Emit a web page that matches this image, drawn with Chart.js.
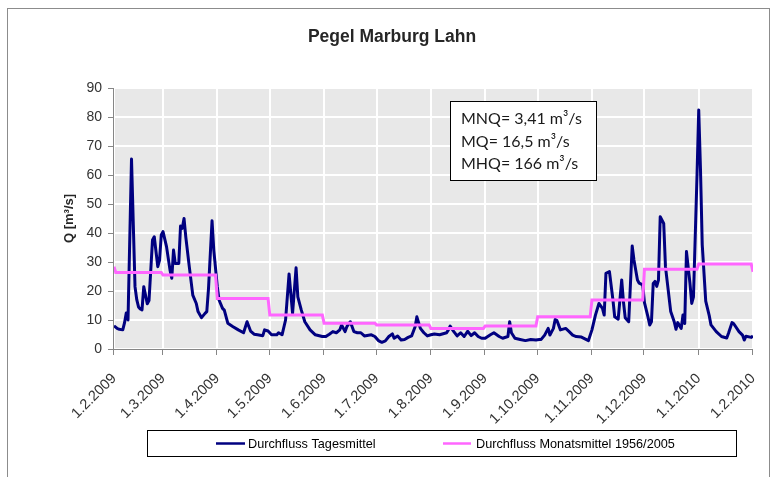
<!DOCTYPE html>
<html>
<head>
<meta charset="utf-8">
<script src="https://cdn.jsdelivr.net/npm/chart.js@4/dist/chart.umd.min.js"></script>
<style>
  html, body { margin: 0; padding: 0; background: #fff; }
  canvas { display: block; }
</style>
</head>
<body>
<canvas id="c" width="777" height="477" style="width:777px;height:477px"></canvas>
<script>
// ---- data ----
const chartTitle = 'Pegel Marburg Lahn';
const yAxisTitle = 'Q [m³/s]';
const seriesNames = ['Durchfluss Tagesmittel', 'Durchfluss Monatsmittel 1956/2005'];
const infoLines = ['MNQ= 3,41 m³/s', 'MQ= 16,5 m³/s', 'MHQ= 166 m³/s'];

// day index since 1.2.2009
const tickDays = [0, 28, 59, 89, 120, 150, 181, 212, 242, 273, 303, 334, 365];
const tickLabels = ['1.2.2009', '1.3.2009', '1.4.2009', '1.5.2009', '1.6.2009', '1.7.2009',
  '1.8.2009', '1.9.2009', '1.10.2009', '1.11.2009', '1.12.2009', '1.1.2010', '1.2.2010'];

// daily discharge (Tagesmittel), sampled at the visible turning points
const flowDays = [0, 2, 3, 5, 6, 7, 8, 10, 12, 13, 14, 15, 16, 17, 19, 20, 22, 23, 25, 26, 27, 28, 30, 32, 33,
  34, 35, 37, 38, 39, 40, 41, 43, 45, 47, 48, 50, 52, 53, 54, 56, 57, 59, 60, 62, 63, 65, 68, 71, 74,
  76, 78, 80, 82, 85, 86, 88, 90, 93, 94, 96, 98, 100, 102, 104, 105, 107, 109, 112, 115, 119, 121,
  123, 125, 127, 129, 130, 132, 133, 135, 137, 139, 141, 143, 147, 149, 151, 153, 155, 157, 159, 160,
  162, 164, 166, 168, 170, 172, 173, 175, 177, 179, 181, 183, 186, 190, 191, 192, 194, 196, 198, 200,
  202, 204, 206, 208, 210, 212, 215, 217, 220, 222, 225, 226, 227, 229, 232, 235, 238, 241, 243, 244,
  246, 248, 249, 251, 252, 253, 255, 258, 260, 262, 264, 267, 269, 271, 273, 275, 277, 279, 280, 281,
  283, 285, 286, 288, 290, 291, 292, 294, 296, 297, 299, 300, 302, 303, 305, 306, 307, 308, 309, 310,
  311, 312, 314, 315, 318, 320, 321, 322, 324, 325, 326, 327, 329, 330, 331, 333, 334, 335, 336, 338,
  340, 341, 344, 347, 350, 351, 353, 354, 357, 359, 360, 361, 364, 365];
const flowValues = [8.0, 7.0, 6.8, 6.6, 9.0, 12.4, 10.0, 65.5, 21.5, 17.0, 14.5, 13.8, 13.5, 21.5, 15.6, 16.7, 37.6, 38.7, 28.4, 30.6, 39.3, 40.5, 35.3, 27.2, 24.4,
  34.1, 29.5, 29.5, 42.4, 41.6, 45.0, 38.7, 28.4, 18.6, 15.7, 12.9, 10.8, 12.3, 12.9, 21.0, 44.2, 34.1, 21.5, 16.9, 14.0, 13.4, 8.9, 7.7, 6.6, 5.6,
  9.4, 6.2, 5.1, 4.9, 4.6, 6.6, 6.2, 4.9, 4.9, 5.6, 4.9, 10.0, 25.9, 12.3, 28.0, 18.0, 13.4, 9.4, 6.6, 4.9, 4.3, 4.3,
  5.1, 6.0, 5.6, 6.6, 8.3, 6.0, 7.7, 9.4, 6.0, 5.6, 5.6, 4.5, 4.9, 4.3, 2.9, 2.3, 2.8, 4.3, 5.2, 3.7,
  4.5, 3.1, 3.3, 4.0, 4.5, 7.7, 11.1, 7.1, 5.6, 4.5, 4.9, 5.2, 4.9, 5.6, 6.6, 7.9, 6.1, 4.5, 5.6, 4.3,
  6.1, 4.6, 5.6, 4.3, 3.7, 3.7, 4.9, 5.6, 4.3, 3.7, 4.3, 9.4, 5.6, 3.7, 3.3, 2.9, 3.3, 3.1, 3.3, 3.3,
  4.8, 7.1, 4.8, 7.1, 10.2, 9.8, 6.6, 7.1, 6.0, 4.8, 4.3, 4.1, 3.5, 2.9, 6.6, 11.7, 15.7, 14.0, 11.7, 26.1,
  26.7, 16.9, 11.1, 10.3, 23.8, 16.3, 10.8, 9.4, 35.5, 30.7, 23.8, 22.7, 22.1, 16.0, 11.1, 8.3, 9.4, 22.6, 23.3, 21.6,
  23.8, 45.6, 43.3, 28.4, 12.9, 9.4, 6.8, 9.1, 7.1, 11.7, 8.8, 33.6, 22.6, 15.7, 18.0, 59.4, 82.4, 62.0, 36.0, 16.5,
  11.5, 8.3, 6.0, 4.3, 3.8, 5.4, 9.1, 8.7, 6.0, 4.8, 3.1, 4.4, 4.0, 4.5];

// long-term monthly means (Feb 2009 ... Feb 2010)
const monthlyStartValue = 28.4;
const monthlyMeans = [26.4, 25.5, 17.4, 11.7, 8.9, 8.3, 7.1, 7.9, 11.1, 16.9, 27.5, 29.3, 26.6];

// ---- build datasets ----
const flowPoints = flowDays.map((d, i) => ({ x: d, y: flowValues[i] }));
const meanPoints = [{ x: tickDays[0], y: monthlyStartValue }];
for (let i = 0; i < tickDays.length - 1; i++) {
  meanPoints.push({ x: tickDays[i] + (i === 0 ? 1 : 0), y: monthlyMeans[i] });
  meanPoints.push({ x: tickDays[i + 1] - 1, y: monthlyMeans[i] });
}
meanPoints.push({ x: tickDays[tickDays.length - 1], y: monthlyMeans[monthlyMeans.length - 1] });

Chart.defaults.font.family = '"Liberation Sans", Arial, sans-serif';

const PLOT = { left: 114, right: 753, top: 88, bottom: 349 };

const decor = {
  id: 'decor',
  beforeDraw(chart) {
    const { ctx, chartArea: a } = chart;
    ctx.save();
    ctx.fillStyle = '#ffffff';
    ctx.fillRect(0, 0, chart.width, chart.height);
    ctx.fillStyle = '#E8E8E8';
    ctx.fillRect(a.left, a.top, a.right - a.left, a.bottom - a.top);
    ctx.restore();
  },
  afterDraw(chart) {
    const { ctx, chartArea: a, scales } = chart;
    const xs = scales.x, ys = scales.y;
    ctx.save();
    // outer frame
    ctx.strokeStyle = '#8c8c8c';
    ctx.lineWidth = 1;
    ctx.strokeRect(7.5, 8.5, 762, 480);
    // axes
    ctx.strokeStyle = '#868686';
    ctx.beginPath();
    ctx.moveTo(a.left - 0.5, a.top);
    ctx.lineTo(a.left - 0.5, a.bottom + 0.5);
    ctx.lineTo(a.right, a.bottom + 0.5);
    ys.ticks.forEach(t => {
      const py = Math.round(ys.getPixelForValue(t.value)) + 0.5;
      ctx.moveTo(a.left - 6, py);
      ctx.lineTo(a.left, py);
    });
    xs.ticks.forEach(t => {
      const px = Math.round(xs.getPixelForValue(t.value)) - 0.5;
      ctx.moveTo(px, a.bottom);
      ctx.lineTo(px, a.bottom + 6);
    });
    ctx.stroke();

    // title
    ctx.fillStyle = '#262626';
    ctx.font = 'bold 17.5px "Liberation Sans", Arial, sans-serif';
    ctx.textAlign = 'center';
    ctx.textBaseline = 'alphabetic';
    ctx.fillText(chartTitle, 392, 42);

    // info box
    ctx.fillStyle = '#ffffff';
    ctx.fillRect(450, 101, 146, 79);
    ctx.strokeStyle = '#000000';
    ctx.strokeRect(450.5, 101.5, 146, 79);
    ctx.fillStyle = '#1a1a1a';
    ctx.font = '16px Lato, "Open Sans", sans-serif';
    ctx.textAlign = 'left';
    infoLines.forEach((s, i) => ctx.fillText(s, 461, 124 + i * 22.5));

    // legend
    ctx.strokeStyle = '#000000';
    ctx.strokeRect(147.5, 430.5, 589, 26);
    ctx.font = '12.7px "Liberation Sans", Arial, sans-serif';
    ctx.textBaseline = 'middle';
    ctx.fillStyle = '#000000';
    const legendItems = [
      { x0: 216, x1: 245, tx: 248, color: '#000080', text: seriesNames[0] },
      { x0: 443, x1: 471, tx: 476, color: '#FF66FF', text: seriesNames[1] }
    ];
    legendItems.forEach(it => {
      ctx.strokeStyle = it.color;
      ctx.lineWidth = 2.5;
      ctx.beginPath();
      ctx.moveTo(it.x0, 443.5);
      ctx.lineTo(it.x1, 443.5);
      ctx.stroke();
      ctx.fillText(it.text, it.tx, 444);
    });
    ctx.restore();
  }
};

new Chart(document.getElementById('c'), {
  type: 'line',
  data: {
    datasets: [
      {
        label: seriesNames[1], data: meanPoints, borderColor: '#FF66FF', borderWidth: 3,
        pointRadius: 0, tension: 0, order: 0, fill: false
      },
      {
        label: seriesNames[0], data: flowPoints, borderColor: '#000080', borderWidth: 3,
        pointRadius: 0, tension: 0, order: 1, fill: false, borderJoinStyle: 'round'
      }
    ]
  },
  options: {
    responsive: false,
    animation: false,
    devicePixelRatio: 1,
    layout: { padding: { left: 8, top: PLOT.top, right: 777 - PLOT.right, bottom: 0 } },
    plugins: { legend: { display: false }, tooltip: { enabled: false }, title: { display: false } },
    scales: {
      x: {
        type: 'linear', min: 0, max: 365,
        afterBuildTicks: s => { s.ticks = tickDays.map(v => ({ value: v })); },
        afterFit: s => {
          s.height = 477 - PLOT.bottom;
          s.paddingLeft = 0; s.paddingRight = 0;
        },
        ticks: {
          autoSkip: false, maxRotation: 45, minRotation: 45, padding: 21,
          color: '#333333', font: { size: 14.5 },
          callback: (v, i) => tickLabels[i]
        },
        grid: { color: '#ffffff', lineWidth: 2, drawTicks: false },
        border: { display: false }
      },
      y: {
        min: 0, max: 90,
        afterFit: s => { s.width = PLOT.left - 8; s.paddingTop = 0; s.paddingBottom = 0; },
        ticks: { stepSize: 10, padding: 12, color: '#333333', font: { size: 14 } },
        grid: { color: '#ffffff', lineWidth: 2, drawTicks: false },
        border: { display: false },
        title: {
          display: true, text: yAxisTitle, color: '#262626',
          font: { size: 13, weight: 'bold' }, padding: { top: 54, bottom: 0 }
        }
      }
    }
  },
  plugins: [decor]
});
</script>
</body>
</html>
